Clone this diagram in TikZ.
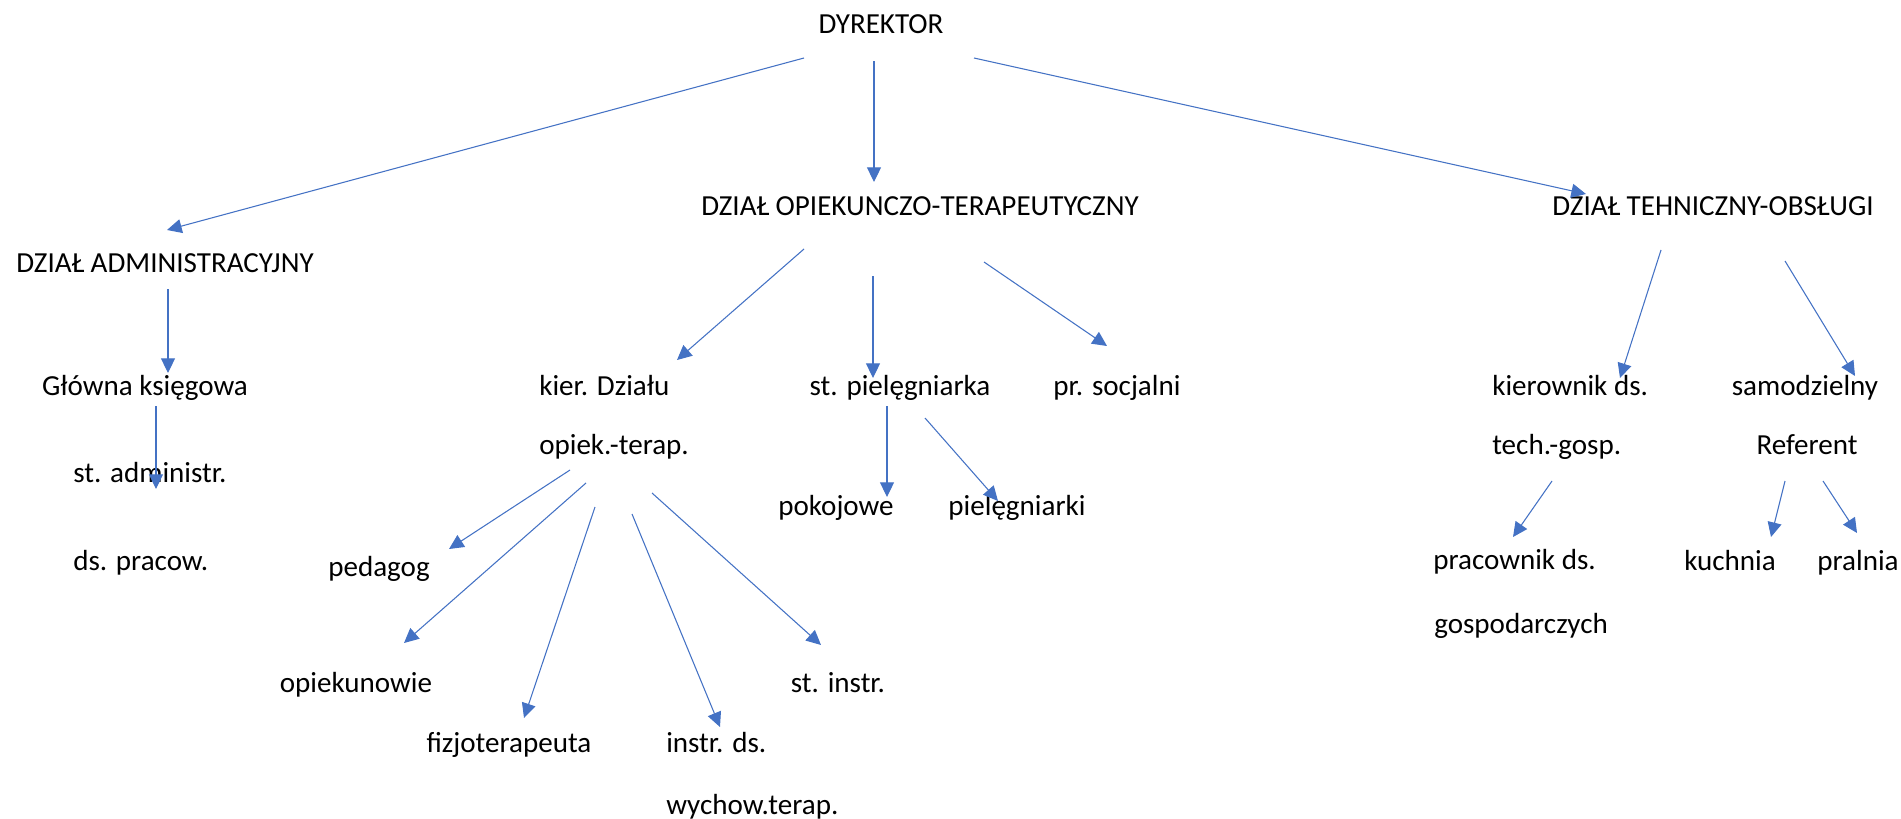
\documentclass[tikz,border=0pt]{standalone}
\usepackage{fontspec}
\setmainfont{Carlito}
\usetikzlibrary{arrows.meta,calc}
\definecolor{wordblue}{HTML}{4472C4}
\begin{document}
\begin{tikzpicture}[x=0.75pt,y=-0.75pt,
  lbl/.style={inner sep=0pt,font=\fontsize{21.8pt}{26pt}\selectfont,text height=14pt,text depth=0pt},
  lft/.style={lbl,anchor=west},
  arr/.style={draw=wordblue,line width=0.8pt,-{Triangle[length=11pt,width=10.5pt,fill=wordblue]}}]
\useasboundingbox (0,0) rectangle (1901,818);
% nodes
\node[lbl] (dyr) at (881,24) {DYREKTOR};
\node[lbl] (adm) at (165,263) {DZIAŁ ADMINISTRACYJNY};
\node[lbl] (opi) at (920,206) {DZIAŁ OPIEKUNCZO-TERAPEUTYCZNY};
\node[lbl] (tech) at (1713,206) {DZIAŁ TEHNICZNY-OBSŁUGI};
\node[lbl] (gl) at (145,386) {Główna księgowa};
\node[lft] (sta1) at (73,473) {st. administr.};
\node[lft] (sta2) at (73,561) {ds. pracow.};
\node[lft] (kier1) at (539,386) {kier. Działu};
\node[lft] (kier2) at (539,445) {opiek.-terap.};
\node[lbl] (stp) at (900,386) {st. pielęgniarka};
\node[lbl] (prs) at (1117,386) {pr. socjalni};
\node[lbl] (pok) at (836,506) {pokojowe};
\node[lbl] (piel) at (1017,506) {pielęgniarki};
\node[lbl] (ped) at (379,567) {pedagog};
\node[lbl] (opk) at (356,683) {opiekunowie};
\node[lbl] (fiz) at (509,743) {fizjoterapeuta};
\node[lft] (ins1) at (666,743) {instr. ds.};
\node[lft] (ins2) at (666,805) {wychow.terap.};
\node[lbl] (sti) at (838,683) {st. instr.};
\node[lft] (kie1) at (1492,386) {kierownik ds.};
\node[lft] (kie2) at (1492,445) {tech.-gosp.};
\node[lbl] (samo) at (1805,386) {samodzielny};
\node[lbl] (ref) at (1807,445) {Referent};
\node[lft] (pra1) at (1433,560) {pracownik ds.};
\node[lft] (pra2) at (1434,624) {gospodarczych};
\node[lbl] (kuch) at (1730,561) {kuchnia};
\node[lbl] (pral) at (1858,561) {pralnia};
% connectors
\draw[arr] ($(dyr)+(-77,34)$) -- ($(adm)+(2,-33)$);
\draw[arr] ($(dyr)+(-7,37)$) -- ($(opi)+(-46,-24)$);
\draw[arr] ($(dyr)+(93,34)$) -- ($(tech)+(-127,-12)$);
\draw[arr] ($(adm)+(3,26)$) -- ($(gl)+(23,-13)$);
\draw[arr] ($(gl)+(11,20)$) -- ($(sta1.west)+(83,16)$);
\draw[arr] ($(opi)+(-116,43)$) -- ($(kier1.west)+(138,-26)$);
\draw[arr] ($(opi)+(-47,70)$) -- ($(stp)+(-27,-8)$);
\draw[arr] ($(opi)+(64,56)$) -- ($(prs)+(-10,-40)$);
\draw[arr] ($(stp)+(-13,20)$) -- ($(pok)+(51,-9)$);
\draw[arr] ($(stp)+(25,32)$) -- ($(piel)+(-19,-5)$);
\draw[arr] ($(kier2.west)+(31,25)$) -- ($(ped)+(70,-18)$);
\draw[arr] ($(kier2.west)+(47,38)$) -- ($(opk)+(48,-40)$);
\draw[arr] ($(kier2.west)+(56,62)$) -- ($(fiz)+(15,-25)$);
\draw[arr] ($(kier2.west)+(93,69)$) -- ($(ins1.west)+(54,-16)$);
\draw[arr] ($(kier2.west)+(113,48)$) -- ($(sti)+(-17,-38)$);
\draw[arr] ($(tech)+(-52,44)$) -- ($(kie1.west)+(128,-8)$);
\draw[arr] ($(tech)+(72,55)$) -- ($(samo)+(50,-10)$);
\draw[arr] ($(kie2.west)+(60,36)$) -- ($(pra1.west)+(80,-23)$);
\draw[arr] ($(ref)+(-22,36)$) -- ($(kuch)+(41,-24)$);
\draw[arr] ($(ref)+(16,36)$) -- ($(pral)+(-1,-28)$);
\end{tikzpicture}
\end{document}
